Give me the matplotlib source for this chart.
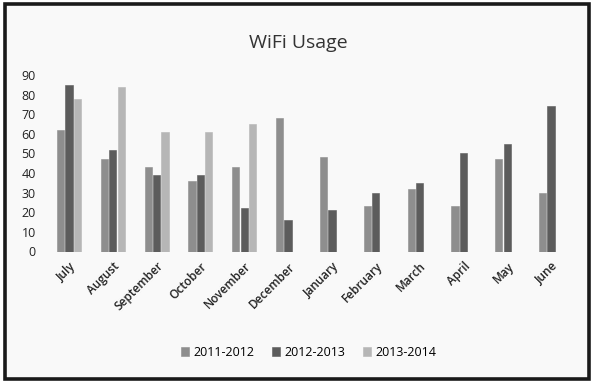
import numpy as np
import matplotlib
matplotlib.use("Agg")
import matplotlib.pyplot as plt
from matplotlib.patches import Rectangle

months = ["July", "August", "September", "October", "November", "December",
          "January", "February", "March", "April", "May", "June"]
series_names = ["2011-2012", "2012-2013", "2013-2014"]
usage_2011 = [62, 47, 43, 36, 43, 68, 48, 23, 32, 23, 47, 30]
usage_2012 = [85, 52, 39, 39, 22, 16, 21, 30, 35, 50, 55, 74]
usage_2013 = [78, 84, 61, 61, 65, None, None, None, None, None, None, None]
y_ticks = [0, 10, 20, 30, 40, 50, 60, 70, 80, 90]

colors = ["#8e8e8e", "#5c5c5c", "#b6b6b6"]
font = ["Open Sans", "DejaVu Sans"]

fig = plt.figure(figsize=(5.93, 3.81), dpi=100, facecolor="white")

# page frame
fig.patches.append(Rectangle((0.009, 0.004), 0.985, 0.985, transform=fig.transFigure,
                             facecolor="#f9f9f9", edgecolor="#1a1a1a", linewidth=2.6,
                             zorder=-10))

ax = fig.add_axes([47 / 593, 1 - 251.5 / 381, 526 / 593, (251.5 - 75) / 381])
ax.set_facecolor("none")

x = np.arange(len(months))
slot = 1 / 5.19
bar_w = slot * 0.86
all_series = [usage_2011, usage_2012, usage_2013]
handles = []
for i, (vals, name, c) in enumerate(zip(all_series, series_names, colors)):
    xs = [xi + (i - 1) * slot for xi, v in zip(x, vals) if v is not None]
    vs = [v for v in vals if v is not None]
    h = ax.bar(xs, vs, width=bar_w, color=c, edgecolor=c, linewidth=0.4, label=name)
    handles.append(h)

ax.set_xlim(-0.5, len(months) - 0.5)
ax.set_ylim(0, 90)
ax.set_yticks(y_ticks)
ax.set_yticklabels([str(t) for t in y_ticks], fontsize=9, family=font, color="#222222")
ax.set_xticks(x)
ax.set_xticklabels(months, rotation=45, ha="right", rotation_mode="anchor",
                   fontsize=8.5, family=font, fontweight="semibold", color="#222222")
ax.tick_params(axis="both", length=0)
ax.tick_params(axis="y", pad=8)
ax.tick_params(axis="x", pad=6)
for s in ax.spines.values():
    s.set_visible(False)

fig.text(0.503, 1 - 43 / 381, "WiFi Usage", ha="center", va="center",
         fontsize=14, family=font, color="#333333")

fig.legend(handles, series_names, loc="center", bbox_to_anchor=(0.52, 1 - 352 / 381),
           ncol=3, frameon=False, prop={"family": font, "size": 9},
           handlelength=0.7, handleheight=0.7, handletextpad=0.3, columnspacing=1.4)

fig.savefig("out.png", dpi=100, facecolor="white")
